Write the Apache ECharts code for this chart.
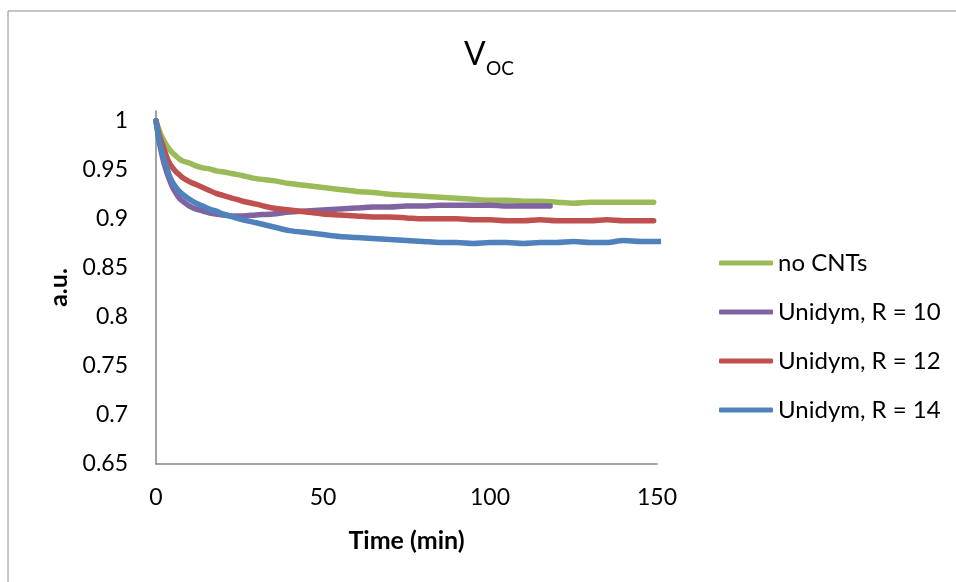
<!DOCTYPE html>
<html>
<head>
<meta charset="utf-8">
<script src="https://cdn.jsdelivr.net/npm/echarts@6/dist/echarts.min.js"></script>
<style>html,body{margin:0;padding:0;background:#fff;}#chart{width:956px;height:582px;}</style>
</head>
<body>
<div id="chart"></div>
<script>
var seriesNames = ['no CNTs', 'Unidym, R = 10', 'Unidym, R = 12', 'Unidym, R = 14'];
var timesNoCNT = [0,1,2,3,4,5,6,7,8,10,12,14,16,18,20,23,26,30,35,40,45,50,55,60,65,70,75,80,85,90,95,100,105,110,115,120,125,130,135,140,145,149];
var valuesNoCNT = [1.0,0.990,0.982,0.976,0.971,0.967,0.964,0.961,0.959,0.957,0.954,0.952,0.951,0.949,0.948,0.946,0.944,0.941,0.939,0.936,0.934,0.932,0.930,0.928,0.927,0.925,0.924,0.923,0.922,0.921,0.920,0.919,0.919,0.918,0.918,0.917,0.916,0.917,0.917,0.917,0.917,0.917];
var timesR10 = [0,1,2,3,4,5,6,7,8,10,12,14,16,18,20,23,26,30,35,40,45,50,55,60,65,70,75,80,85,90,95,100,105,110,115,118];
var valuesR10 = [1.0,0.978,0.962,0.950,0.940,0.932,0.926,0.921,0.918,0.913,0.910,0.908,0.906,0.905,0.904,0.903,0.903,0.904,0.905,0.907,0.908,0.909,0.910,0.911,0.912,0.912,0.913,0.913,0.914,0.914,0.914,0.914,0.913,0.913,0.913,0.913];
var timesR12 = [0,1,2,3,4,5,6,7,8,10,12,14,16,18,20,23,26,30,35,40,45,50,55,60,65,70,75,80,85,90,95,100,105,110,115,120,125,130,135,140,145,149];
var valuesR12 = [1.0,0.985,0.975,0.965,0.957,0.952,0.948,0.945,0.942,0.938,0.935,0.932,0.929,0.926,0.924,0.921,0.918,0.915,0.911,0.909,0.907,0.905,0.904,0.903,0.902,0.902,0.901,0.900,0.900,0.900,0.899,0.899,0.898,0.898,0.899,0.898,0.898,0.898,0.899,0.898,0.898,0.898];
var timesR14 = [0,1,2,3,4,5,6,7,8,10,12,14,16,18,20,23,26,30,35,40,45,50,55,60,65,70,75,80,85,90,95,100,105,110,115,120,125,130,135,140,145,151];
var valuesR14 = [1.0,0.980,0.966,0.955,0.944,0.937,0.932,0.928,0.925,0.920,0.916,0.913,0.910,0.908,0.905,0.902,0.899,0.896,0.892,0.888,0.886,0.884,0.882,0.881,0.880,0.879,0.878,0.877,0.876,0.876,0.875,0.876,0.876,0.875,0.876,0.876,0.877,0.876,0.876,0.878,0.877,0.877];
var xTicks = [0, 50, 100, 150];
var yTicks = [0.65, 0.7, 0.75, 0.8, 0.85, 0.9, 0.95, 1];

var colors = ['#9BBB59', '#8064A2', '#C0504D', '#4F81BD'];
var allTimes = [timesNoCNT, timesR10, timesR12, timesR14];
var allValues = [valuesNoCNT, valuesR10, valuesR12, valuesR14];

function pairs(t, v) { return t.map(function (x, i) { return [x, v[i]]; }); }

var FONT = 'Lato';
var chart = echarts.init(document.getElementById('chart'));
chart.setOption({
  animation: false,
  backgroundColor: '#ffffff',
  textStyle: { fontFamily: FONT },
  graphic: [
    { type: 'rect', shape: { x: 8, y: 11, width: 1000, height: 1000 }, style: { fill: 'none', stroke: '#8c8c8c', lineWidth: 1 }, silent: true },
    { type: 'text', left: 464, top: 39, style: { text: 'V', font: '32px Lato', fill: '#000' }, silent: true },
    { type: 'text', left: 486, top: 59, style: { text: 'OC', font: '19px Lato', fill: '#000' }, silent: true }
  ],
  grid: { left: 156, right: 299, top: 111, bottom: 118, containLabel: false },
  legend: {
    orient: 'vertical', left: 719, top: 251, padding: 0,
    itemWidth: 54, itemHeight: 5, itemGap: 25,
    icon: 'roundRect',
    data: seriesNames,
    textStyle: { fontFamily: FONT, fontSize: 24, color: '#000', lineHeight: 24 }
  },
  xAxis: {
    type: 'value', min: 0, max: 150, interval: 50,
    name: 'Time (min)', nameLocation: 'middle', nameGap: 64,
    nameTextStyle: { fontFamily: FONT, fontSize: 25, fontWeight: 'bold', color: '#000' },
    axisLine: { show: true, lineStyle: { color: '#868686', width: 1.5 } },
    axisTick: { show: false },
    splitLine: { show: false },
    axisLabel: { fontFamily: FONT, fontSize: 23, color: '#000', margin: 22 }
  },
  yAxis: {
    type: 'value', min: 0.65, max: 1.01, interval: 0.05,
    name: 'a.u.', nameLocation: 'middle', nameGap: 82, nameRotate: 90,
    nameTextStyle: { fontFamily: FONT, fontSize: 25, fontWeight: 'bold', color: '#000' },
    axisLine: { show: true, lineStyle: { color: '#868686', width: 1.5 } },
    axisTick: { show: false },
    splitLine: { show: false },
    axisLabel: {
      fontFamily: FONT, fontSize: 23, color: '#000', margin: 28, showMaxLabel: false,
      formatter: function (v) {
        for (var i = 0; i < yTicks.length; i++) { if (Math.abs(yTicks[i] - v) < 1e-6) return String(yTicks[i]); }
        return '';
      }
    }
  },
  series: seriesNames.map(function (n, i) {
    return {
      name: n, type: 'line', data: pairs(allTimes[i], allValues[i]),
      showSymbol: false, symbol: 'none', smooth: 0.3,
      lineStyle: { color: colors[i], width: 5.5, cap: 'round', join: 'round' },
      itemStyle: { color: colors[i] },
      z: 2 + i
    };
  })
});
</script>
</body>
</html>
